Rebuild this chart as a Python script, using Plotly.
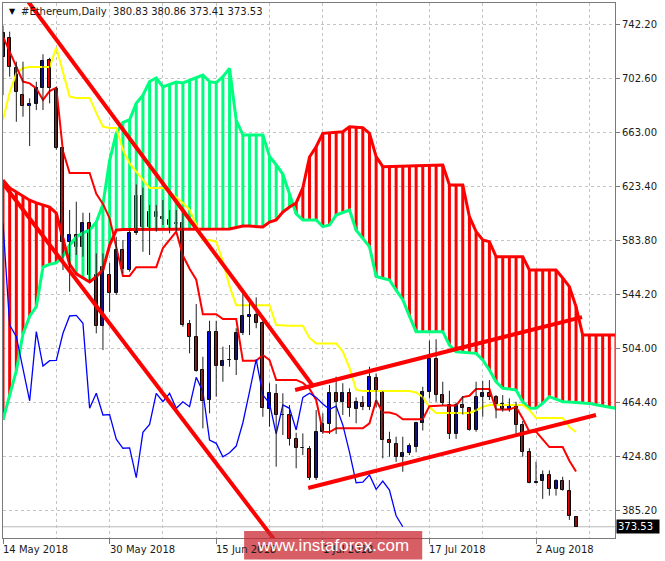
import pandas as pd
import plotly.graph_objects as go

# ---------------- data (daily bars starting 14 May 2018) ----------------
start_date = "2018-05-14"

opens = [735.5, 731.7, 709.7, 690.1, 682.1, 683.3, 695.0, 715.8, 694.5, 651.0,
         582.6, 587.5, 578.9, 596.5, 558.1, 520.7, 558.1, 544.7, 576.5, 561.8,
         588.7, 616.3, 593.6, 604.1, 600.4, 598.5, 595.5, 596.0, 522.0, 512.9,
         488.5, 466.5, 516.6, 491.4, 495.8, 495.8, 515.4, 527.5, 528.8, 522.7,
         459.7, 470.9, 455.5, 455.5, 437.7, 431.1, 430.3, 409.5, 443.2, 448.6,
         471.4, 465.2, 471.8, 459.7, 464.5, 461.1, 482.4, 472.6, 437.1, 434.2,
         424.4, 427.8, 432.2, 449.4, 472.6, 496.3, 470.1, 462.8, 441.6, 462.8,
         460.4, 444.5, 468.4, 471.4, 468.4, 463.5, 459.7, 462.1, 448.2, 428.2,
         405.8, 407.1, 411.6, 401.0, 407.1, 400.0, 380.83]
highs = [741.0, 736.6, 714.6, 714.6, 687.7, 699.9, 720.0, 717.5, 696.2, 652.0,
         605.8, 611.9, 603.8, 603.8, 574.0, 574.0, 566.9, 586.2, 583.8, 592.4,
         624.6, 622.2, 609.5, 609.5, 613.1, 605.8, 605.8, 605.8, 525.1, 536.9,
         498.2, 524.6, 524.6, 505.6, 506.8, 519.1, 544.7, 538.6, 541.8, 525.1,
         478.8, 478.2, 471.4, 462.8, 442.5, 442.0, 432.7, 459.1, 456.7, 477.5,
         483.6, 478.8, 475.0, 468.4, 469.4, 490.9, 486.0, 473.0, 443.2, 439.6,
         439.6, 434.7, 450.5, 476.2, 510.0, 511.0, 479.9, 473.3, 464.5, 469.4,
         461.0, 479.9, 480.6, 481.1, 470.1, 470.1, 467.7, 465.2, 451.1, 431.1,
         421.2, 414.9, 414.9, 408.3, 410.2, 407.8, 380.86]
lows = [690.0, 703.6, 670.5, 674.2, 652.7, 679.1, 679.1, 684.0, 650.0, 561.8,
        545.9, 572.8, 571.6, 553.2, 515.4, 503.1, 531.2, 543.5, 559.4, 560.6,
        587.5, 575.2, 572.8, 589.9, 594.8, 588.7, 590.0, 520.2, 500.7, 487.2,
        445.7, 456.7, 468.9, 479.9, 490.9, 484.8, 514.1, 514.1, 519.1, 454.2,
        446.9, 417.6, 440.8, 433.1, 416.4, 426.1, 407.8, 407.8, 441.6, 441.6,
        441.6, 455.5, 454.2, 449.4, 459.1, 459.1, 461.1, 423.7, 424.9, 421.1,
        413.9, 426.1, 428.2, 444.1, 467.7, 465.2, 462.8, 437.9, 437.9, 455.8,
        444.0, 443.2, 454.2, 466.5, 453.1, 457.9, 457.9, 441.6, 424.9, 405.4,
        405.4, 394.0, 396.4, 396.4, 400.0, 378.6, 373.41]
closes = [718.0, 710.9, 692.6, 682.1, 683.3, 695.0, 715.1, 695.0, 651.0, 582.6,
          587.5, 578.9, 596.5, 558.1, 520.7, 564.2, 544.7, 576.5, 562.3, 588.7,
          616.3, 593.6, 604.6, 600.4, 599.0, 594.8, 596.0, 521.5, 512.9, 488.0,
          465.9, 516.6, 491.4, 495.3, 495.6, 515.4, 528.1, 528.5, 522.7, 460.4,
          471.4, 455.5, 455.8, 437.7, 431.1, 431.4, 409.5, 442.8, 448.6, 471.4,
          465.2, 471.4, 460.4, 465.2, 461.6, 483.1, 472.6, 437.1, 434.7, 424.9,
          427.8, 432.7, 449.8, 472.6, 496.3, 470.1, 464.0, 441.6, 462.8, 460.4,
          444.5, 468.4, 471.4, 468.4, 463.5, 459.7, 462.0, 448.2, 428.2, 405.8,
          406.3, 411.6, 401.0, 407.1, 400.5, 381.6, 373.53]

# Ichimoku lines (one value per bar)
tenkan = [733, 722, 710, 700, 698.7, 695, 686.5, 693, 695.5, 649,
          633, 633, 633, 633, 617.7, 610.3, 599.7, 577.6, 557.5, 557.5,
          563.9, 563.9, 563.9, 563.9, 577.9, 584.1, 590, 572.4, 562.7, 554.7,
          529.4, 529.4, 529.4, 525.8, 525.8, 525.8, 495.2, 495.2, 495.2, 499.5,
          495.8, 481.2, 481.2, 481.2, 481.2, 479.1, 474.8, 466.5, 443.3, 443,
          445.7, 445.7, 445.7, 445.7, 445.7, 449.4, 466.3, 457.3, 457.3, 456,
          452.4, 452.4, 452.4, 452.4, 462, 462.5, 462.5, 462.5, 462.5, 468.6,
          469.6, 474.5, 474.5, 474.5, 459.5, 459.5, 459.5, 461.4, 453, 443.3,
          443.3, 437.6, 432, 432, 432, 422, 414]
kijun = [672, 692, 706, 710, 710.7, 710.7, 710.7, 710.7, 725, 707,
         689, 688, 688, 688, 677, 667, 666, 666, 650, 640,
         634, 628, 622, 622, 622, 619, 615.3, 611, 606, 595,
         584, 583.8, 582.6, 568, 550, 536, 536, 536, 536, 536,
         536, 521.5, 521, 521, 521, 521, 512, 508, 508, 508,
         508, 502, 490, 474, 473, 473, 473, 473, 473, 473,
         473, 473, 472, 468.7, 461.3, 457, 457, 457, 457, 457,
         457, 459, 461.5, 462.8, 462.8, 462.8, 462.8, 462.8, 462.8, 459,
         453.3, 453.3, 453.3, 453.3, 453.3, 446.7, 443]
span_a = [452, 470, 488, 515, 528, 535, 564, 566, 567, 572,
          580, 586, 589, 591, 597, 610, 642, 662, 670, 672,
          684, 690, 700, 702.6, 696, 698, 699.7, 699, 701, 703.3,
          704.8, 699.9, 699.2, 703.6, 709.7, 671.8, 660.8, 660.8, 660.8, 660.8,
          645, 639, 632, 618, 603, 598.5, 598.5, 598.5, 593.6, 594.8,
          602.1, 604, 605.8, 591, 585, 579, 557, 556, 554.5, 547,
          540, 528, 516.6, 516.6, 516.6, 516.6, 516.6, 506.8, 501.9, 501.5,
          501, 500.7, 495.8, 488.5, 479.9, 475.1, 474.5, 473.8, 465.2, 460.4,
          460.4, 464, 468.9, 467, 465.2, 465, 464.7, 464.3, 464, 463,
          462, 461, 460.4]
span_b = [627.8, 622, 619, 616, 613, 611, 609.5, 608, 603.6, 585,
          566, 559, 556, 553, 557, 562, 580, 591.1, 591.5, 591.5,
          591.5, 591.5, 591.5, 591.5, 591.5, 591.5, 591.5, 591.5, 591.5, 591.5,
          591.5, 591.5, 591.5, 591.5, 591.9, 593, 594.1, 594, 593.5, 593.3,
          597, 598.5, 604.3, 608, 611, 622, 644.7, 652.2, 662, 662.3,
          662.5, 663.2, 666.9, 666.5, 666.2, 662, 645, 637.6, 637.6, 637.6,
          637.6, 638, 638.2, 638.4, 638.6, 638.8, 638.8, 624.1, 624.1, 624.1,
          600.9, 590, 583.8, 582.6, 571.6, 571.6, 571.6, 571.6, 571.6, 561.8,
          561.8, 561.8, 561.8, 561.8, 556, 549.6, 534.9, 514.1, 514.1, 514.1,
          514.1, 514.1, 514.1]
chikou_shift = 26

# analyst trend lines: start/end (date, price)
trend_x0 = ["2018-05-17 14:24", "2018-05-13 14:24", "2018-06-26 20:10", "2018-06-28 19:12"]
trend_p0 = [759.8, 627.8, 473.8, 402.0]
trend_x1 = ["2018-06-29 14:24", "2018-06-24 00:00", "2018-08-08 21:36", "2018-08-11 00:00"]
trend_p1 = [476.2, 362.3, 527.3, 455.5]

price_ticks = [742.2, 702.6, 663.0, 623.4, 583.8, 544.2, 504.0, 464.4, 424.8, 385.2]
label_dates = ["2018-05-14", "2018-05-30", "2018-06-15", "2018-07-01", "2018-07-17", "2018-08-02"]
label_texts = ["14 May 2018", "30 May 2018", "15 Jun 2018", "1 Jul 2018", "17 Jul 2018", "2 Aug 2018"]
grid_minor_dates = ["2018-05-22", "2018-06-07", "2018-06-23", "2018-07-09", "2018-07-25", "2018-08-10"]
x_range = ["2018-05-14 00:00", "2018-08-13 20:24"]
y_range = [365.3, 757.6]

# ---------------- build ----------------
dates = pd.date_range(start_date, periods=len(closes), freq="D")
cloud_dates = pd.date_range(start_date, periods=len(span_a), freq="D")

GREEN = "#00FF7F"
RED = "#FF0000"

fig = go.Figure()

# cloud hatch
gx, gy, rx, ry = [], [], [], []
for d, a, b in zip(cloud_dates, span_a, span_b):
    if a >= b:
        gx += [d, d, None]; gy += [a, b, None]
    else:
        rx += [d, d, None]; ry += [a, b, None]
fig.add_trace(go.Scatter(x=gx, y=gy, mode="lines", line=dict(color=GREEN, width=3), hoverinfo="skip"))
fig.add_trace(go.Scatter(x=rx, y=ry, mode="lines", line=dict(color=RED, width=3), hoverinfo="skip"))
fig.add_trace(go.Scatter(x=cloud_dates, y=span_a, mode="lines", line=dict(color=GREEN, width=3)))
fig.add_trace(go.Scatter(x=cloud_dates, y=span_b, mode="lines", line=dict(color=RED, width=3)))

# kijun, tenkan, chikou
fig.add_trace(go.Scatter(x=dates, y=kijun, mode="lines", line=dict(color="#FFFF00", width=2)))
fig.add_trace(go.Scatter(x=dates, y=tenkan, mode="lines", line=dict(color=RED, width=2)))
fig.add_trace(go.Scatter(x=dates[:len(closes) - chikou_shift], y=closes[chikou_shift:],
                         mode="lines", line=dict(color="#0000FF", width=1.3)))

# candles: wicks
wx, wy = [], []
for d, h, l in zip(dates, highs, lows):
    wx += [d, d, None]; wy += [l, h, None]
fig.add_trace(go.Scatter(x=wx, y=wy, mode="lines", line=dict(color="#202020", width=1), hoverinfo="skip"))

# candles: bodies
bw = 0.45 * 86400000
ux, ub, uh, dx, db, dh = [], [], [], [], [], []
for d, o, c in zip(dates, opens, closes):
    if c >= o:
        ux.append(d); ub.append(o); uh.append(max(c - o, 0.25))
    else:
        dx.append(d); db.append(c); dh.append(max(o - c, 0.25))
fig.add_trace(go.Bar(x=ux, y=uh, base=ub, width=bw, marker=dict(color="#0000FF", line=dict(color="#000000", width=1))))
fig.add_trace(go.Bar(x=dx, y=dh, base=db, width=bw, marker=dict(color=RED, line=dict(color="#000000", width=1))))

# trend lines
for x0, p0, x1, p1 in zip(trend_x0, trend_p0, trend_x1, trend_p1):
    fig.add_trace(go.Scatter(x=[x0, x1], y=[p0, p1], mode="lines", line=dict(color=RED, width=4)))

GRID = "#c4c4c4"
AXIS = "#7a7a7a"
FONT = "DejaVu Sans"

fig.update_layout(
    width=665, height=561,
    margin=dict(l=3, r=50, t=3, b=23),
    plot_bgcolor="white", paper_bgcolor="white",
    showlegend=False, barmode="overlay", bargap=0,
    font=dict(family=FONT, size=10, color="#1a1a1a"),
)
fig.update_xaxes(
    type="date", range=x_range,
    tickvals=label_dates, showticklabels=False,
    ticks="outside", ticklen=5, tickcolor=AXIS,
    showgrid=True, gridcolor=GRID, griddash="3px,3px", gridwidth=1,
    minor=dict(tickvals=grid_minor_dates, showgrid=True, gridcolor=GRID, griddash="3px,3px", ticks=""),
    showline=True, linecolor=AXIS, linewidth=1, mirror=True, zeroline=False,
)
fig.update_yaxes(
    side="right", range=y_range,
    tickvals=price_ticks, ticktext=[f"{v:.2f}" for v in price_ticks],
    ticks="outside", ticklen=4, tickcolor=AXIS,
    tickfont=dict(family=FONT, size=10, color="#1a1a1a"),
    showgrid=True, gridcolor=GRID, griddash="3px,3px", gridwidth=1,
    showline=True, linecolor=AXIS, linewidth=1, mirror=True, zeroline=False,
)

# current price line and label
fig.add_shape(type="line", xref="paper", x0=0, x1=1, yref="y", y0=closes[-1], y1=closes[-1],
              line=dict(color="#b8b8b8", width=1), layer="below")
fig.add_annotation(xref="paper", x=1, yref="y", y=closes[-1], text=f"{closes[-1]:.2f}",
                   showarrow=False, xanchor="left", yanchor="middle", xshift=1,
                   bgcolor="#000000", font=dict(family=FONT, size=10, color="white"),
                   borderpad=1, width=40, align="left")

# x labels
for d, t in zip(label_dates, label_texts):
    fig.add_annotation(x=d, xref="x", y=0, yref="paper", text=t, showarrow=False,
                       xanchor="left", yanchor="top", xshift=-2, yshift=-4,
                       font=dict(family=FONT, size=10, color="#1a1a1a"))

# header
fig.add_annotation(xref="paper", x=0.0065, yref="paper", y=0.985, text="▼", showarrow=False,
                   xanchor="left", yanchor="middle", font=dict(family=FONT, size=8, color="#000000"))
fig.add_annotation(xref="paper", x=0.0255, yref="paper", y=0.984,
                   text="#Ethereum,Daily\u00a0\u00a0380.83 380.86 373.41 373.53", showarrow=False,
                   xanchor="left", yanchor="middle", font=dict(family=FONT, size=10, color="#1a1a1a"))

# watermark
fig.add_shape(type="rect", xref="paper", yref="paper", x0=0.394, x1=0.685, y0=-0.040, y1=0.013,
              fillcolor="rgba(200,40,48,0.75)", line=dict(width=0), layer="above")
fig.add_annotation(xref="paper", x=0.5395, yref="paper", y=-0.0135, text="www.instaforex.com",
                   showarrow=False, xanchor="center", yanchor="middle",
                   font=dict(family="Liberation Sans", size=17, color="white"))

fig.write_html("out.html", config={"displayModeBar": False},
               post_script="document.body.style.margin='0px';")
